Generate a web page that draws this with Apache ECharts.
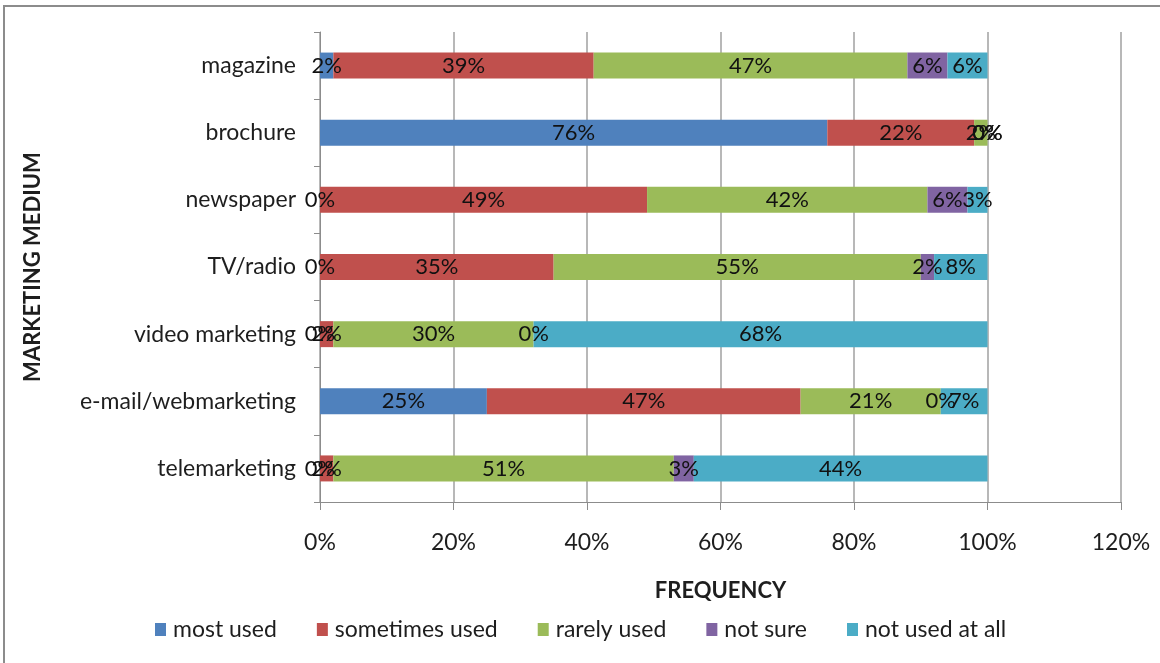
<!DOCTYPE html>
<html>
<head>
<meta charset="utf-8">
<title>Marketing medium usage frequency</title>
<script src="https://cdn.jsdelivr.net/npm/echarts@6/dist/echarts.min.js"></script>
<style>
  html, body { margin: 0; padding: 0; background: #fff; }
  #chart { width: 1160px; height: 663px; }
</style>
</head>
<body>
<div id="chart"></div>
<script>
// Marketing media, bottom to top on the category axis
const categories = ['telemarketing', 'e-mail/webmarketing', 'video marketing', 'TV/radio', 'newspaper', 'brochure', 'magazine'];

// Share of respondents (%) per medium, same order as categories
const mostUsed      = [0, 25, 0, 0, 0, 76, 2];
const sometimesUsed = [2, 47, 2, 35, 49, 22, 39];
const rarelyUsed    = [51, 21, 30, 55, 42, 2, 47];
const notSure       = [3, 0, 0, 2, 6, 0, 6];
const notUsedAtAll  = [44, 7, 68, 8, 3, 0, 6];

const seriesNames = ['most used', 'sometimes used', 'rarely used', 'not sure', 'not used at all'];
const seriesData = [mostUsed, sometimesUsed, rarelyUsed, notSure, notUsedAtAll];
const colors = ['#4F81BD', '#C0504D', '#9BBB59', '#8064A2', '#4BACC6'];

const xTicks = { min: 0, max: 120, interval: 20 };

const FONT = 'Lato, "Open Sans", sans-serif';
const TEXT = '#1e1e1e';

const chart = echarts.init(document.getElementById('chart'), null, { renderer: 'canvas' });

chart.setOption({
  animation: false,
  backgroundColor: '#ffffff',
  textStyle: { fontFamily: FONT, color: TEXT },
  graphic: [{
    type: 'rect',
    shape: { x: 4, y: 6, width: 1200, height: 700 },
    style: { fill: 'none', stroke: '#8c8c8c', lineWidth: 2 },
    silent: true
  }],
  grid: { left: 320, right: 39, top: 32, bottom: 161, containLabel: false },
  legend: {
    left: 150,
    top: 613,
    itemWidth: 11,
    itemHeight: 13,
    itemGap: 40,
    icon: 'rect',
    data: seriesNames,
    textStyle: { fontFamily: FONT, fontSize: 23, color: TEXT, padding: [0, 0, 0, 2] }
  },
  xAxis: {
    type: 'value',
    min: xTicks.min,
    max: xTicks.max,
    interval: xTicks.interval,
    name: 'FREQUENCY',
    nameLocation: 'middle',
    nameGap: 78,
    nameTextStyle: { fontFamily: FONT, fontSize: 22, fontWeight: 'bold', color: TEXT },
    axisLine: { show: true, lineStyle: { color: '#8c8c8c', width: 1 } },
    axisTick: { show: true, length: 8, lineStyle: { color: '#8c8c8c' } },
    axisLabel: { formatter: '{value}%', fontFamily: FONT, fontSize: 23, color: TEXT, margin: 29 },
    splitLine: { show: true, lineStyle: { color: '#a0a0a0', width: 1.5 } }
  },
  yAxis: {
    type: 'category',
    data: categories,
    name: 'MARKETING MEDIUM',
    nameLocation: 'middle',
    nameRotate: 90,
    nameGap: 276,
    nameTextStyle: { fontFamily: FONT, fontSize: 22, fontWeight: 'bold', color: TEXT },
    axisLine: { show: true, lineStyle: { color: '#8c8c8c', width: 1 } },
    axisTick: { show: true, length: 6, lineStyle: { color: '#8c8c8c' } },
    axisLabel: { fontFamily: FONT, fontSize: 23, color: TEXT, margin: 24 },
    splitLine: { show: false }
  },
  series: seriesNames.map((name, i) => ({
    name: name,
    type: 'bar',
    stack: 'total',
    barWidth: 26,
    data: seriesData[i],
    itemStyle: { color: colors[i] },
    label: {
      show: true,
      position: 'inside',
      formatter: '{c}%',
      fontFamily: FONT,
      fontSize: 22,
      color: '#111'
    }
  }))
});
</script>
</body>
</html>
